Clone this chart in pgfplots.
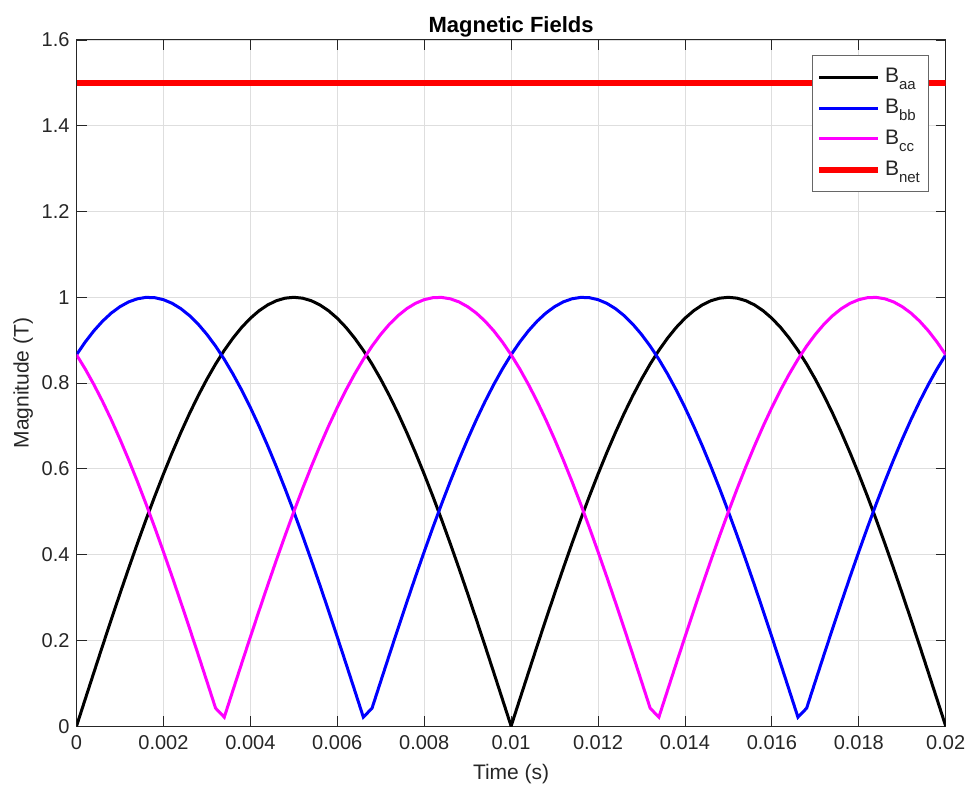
\documentclass[border=0pt]{standalone}
\usepackage{fontspec}
\setmainfont{Liberation Sans}
\usepackage{pgfplots}
\usepackage{pgfplotstable}
\pgfplotsset{compat=1.18}
\pgfplotstableread{
t a b c
0.0000 0.0000 0.8660 0.8660
0.0002 0.0628 0.8957 0.8329
0.0004 0.1253 0.9219 0.7965
0.0006 0.1874 0.9444 0.7570
0.0008 0.2487 0.9632 0.7145
0.0010 0.3090 0.9781 0.6691
0.0012 0.3681 0.9893 0.6211
0.0014 0.4258 0.9965 0.5707
0.0016 0.4818 0.9998 0.5180
0.0018 0.5358 0.9991 0.4633
0.0020 0.5878 0.9945 0.4067
0.0022 0.6374 0.9860 0.3486
0.0024 0.6845 0.9736 0.2890
0.0026 0.7290 0.9573 0.2284
0.0028 0.7705 0.9373 0.1668
0.0030 0.8090 0.9135 0.1045
0.0032 0.8443 0.8862 0.0419
0.0034 0.8763 0.8554 0.0209
0.0036 0.9048 0.8211 0.0837
0.0038 0.9298 0.7837 0.1461
0.0040 0.9511 0.7431 0.2079
0.0042 0.9686 0.6997 0.2689
0.0044 0.9823 0.6534 0.3289
0.0046 0.9921 0.6046 0.3875
0.0048 0.9980 0.5534 0.4446
0.0050 1.0000 0.5000 0.5000
0.0052 0.9980 0.4446 0.5534
0.0054 0.9921 0.3875 0.6046
0.0056 0.9823 0.3289 0.6534
0.0058 0.9686 0.2689 0.6997
0.0060 0.9511 0.2079 0.7431
0.0062 0.9298 0.1461 0.7837
0.0064 0.9048 0.0837 0.8211
0.0066 0.8763 0.0209 0.8554
0.0068 0.8443 0.0419 0.8862
0.0070 0.8090 0.1045 0.9135
0.0072 0.7705 0.1668 0.9373
0.0074 0.7290 0.2284 0.9573
0.0076 0.6845 0.2890 0.9736
0.0078 0.6374 0.3486 0.9860
0.0080 0.5878 0.4067 0.9945
0.0082 0.5358 0.4633 0.9991
0.0084 0.4818 0.5180 0.9998
0.0086 0.4258 0.5707 0.9965
0.0088 0.3681 0.6211 0.9893
0.0090 0.3090 0.6691 0.9781
0.0092 0.2487 0.7145 0.9632
0.0094 0.1874 0.7570 0.9444
0.0096 0.1253 0.7965 0.9219
0.0098 0.0628 0.8329 0.8957
0.0100 0.0000 0.8660 0.8660
0.0102 0.0628 0.8957 0.8329
0.0104 0.1253 0.9219 0.7965
0.0106 0.1874 0.9444 0.7570
0.0108 0.2487 0.9632 0.7145
0.0110 0.3090 0.9781 0.6691
0.0112 0.3681 0.9893 0.6211
0.0114 0.4258 0.9965 0.5707
0.0116 0.4818 0.9998 0.5180
0.0118 0.5358 0.9991 0.4633
0.0120 0.5878 0.9945 0.4067
0.0122 0.6374 0.9860 0.3486
0.0124 0.6845 0.9736 0.2890
0.0126 0.7290 0.9573 0.2284
0.0128 0.7705 0.9373 0.1668
0.0130 0.8090 0.9135 0.1045
0.0132 0.8443 0.8862 0.0419
0.0134 0.8763 0.8554 0.0209
0.0136 0.9048 0.8211 0.0837
0.0138 0.9298 0.7837 0.1461
0.0140 0.9511 0.7431 0.2079
0.0142 0.9686 0.6997 0.2689
0.0144 0.9823 0.6534 0.3289
0.0146 0.9921 0.6046 0.3875
0.0148 0.9980 0.5534 0.4446
0.0150 1.0000 0.5000 0.5000
0.0152 0.9980 0.4446 0.5534
0.0154 0.9921 0.3875 0.6046
0.0156 0.9823 0.3289 0.6534
0.0158 0.9686 0.2689 0.6997
0.0160 0.9511 0.2079 0.7431
0.0162 0.9298 0.1461 0.7837
0.0164 0.9048 0.0837 0.8211
0.0166 0.8763 0.0209 0.8554
0.0168 0.8443 0.0419 0.8862
0.0170 0.8090 0.1045 0.9135
0.0172 0.7705 0.1668 0.9373
0.0174 0.7290 0.2284 0.9573
0.0176 0.6845 0.2890 0.9736
0.0178 0.6374 0.3486 0.9860
0.0180 0.5878 0.4067 0.9945
0.0182 0.5358 0.4633 0.9991
0.0184 0.4818 0.5180 0.9998
0.0186 0.4258 0.5707 0.9965
0.0188 0.3681 0.6211 0.9893
0.0190 0.3090 0.6691 0.9781
0.0192 0.2487 0.7145 0.9632
0.0194 0.1874 0.7570 0.9444
0.0196 0.1253 0.7965 0.9219
0.0198 0.0628 0.8329 0.8957
0.0200 0.0000 0.8660 0.8660
}\fields
\definecolor{axgray}{rgb}{0.15,0.15,0.15}
\definecolor{gridgray}{rgb}{0.87,0.87,0.87}
\definecolor{mag}{rgb}{1,0,1}
\definecolor{blu}{rgb}{0,0,1}
\definecolor{rd}{rgb}{1,0,0}
\newcommand{\sub}[1]{\raisebox{-3.5pt}{\fontsize{7.5}{8}\selectfont #1}}
\begin{document}
\begin{tikzpicture}
\begin{axis}[
  name=ax,
  scale only axis,
  width=434.5pt, height=343pt,
  xmin=0, xmax=0.02, ymin=0, ymax=1.6,
  scaled x ticks=false, scaled y ticks=false,
  xtick={0,0.002,0.004,0.006,0.008,0.01,0.012,0.014,0.016,0.018,0.02},
  xticklabels={0,0.002,0.004,0.006,0.008,0.01,0.012,0.014,0.016,0.018,0.02},
  ytick={0,0.2,0.4,0.6,0.8,1,1.2,1.4,1.6},
  yticklabels={0,0.2,0.4,0.6,0.8,1,1.2,1.4,1.6},
  grid=major,
  major grid style={gridgray, line width=0.4pt},
  tick align=inside,
  major tick length=5pt,
  tick style={axgray, line width=0.4pt},
  axis line style={axgray, line width=0.5pt},
  tick label style={font=\fontsize{10}{12}\selectfont, text=axgray},
  xticklabel style={yshift=-1pt},
  label style={font=\fontsize{10.5}{12}\selectfont, text=axgray},
  xlabel={Time (s)},
  xlabel style={yshift=-0.5pt},
  ylabel={Magnitude (T)},
  ylabel style={yshift=-2.5pt},
  title={\textbf{Magnetic Fields}},
  title style={font=\fontsize{11}{13}\selectfont, yshift=-8pt},
  legend style={at={(0.98,0.978)}, anchor=north east, draw=axgray!70, line width=0.4pt,
    font=\fontsize{10.5}{12}\selectfont, text=axgray, row sep=2.7pt, inner xsep=2pt, inner ysep=4.5pt},
  legend cell align=left,
  legend image code/.code={\draw[#1] (0pt,0pt) -- (29.5pt,0pt);},
]
\addplot[black, line width=1.5pt] table[x=t, y=a] {\fields};
\addlegendentry{B\sub{aa}}
\addplot[blu, line width=1.5pt] table[x=t, y=b] {\fields};
\addlegendentry{B\sub{bb}}
\addplot[mag, line width=1.5pt] table[x=t, y=c] {\fields};
\addlegendentry{B\sub{cc}}
\addplot[rd, line width=3pt] coordinates {(0,1.5) (0.02,1.5)};
\addlegendentry{B\sub{net}}
\end{axis}
\pgfresetboundingbox
\path ([shift={(-38.25pt,-31.5pt)}]ax.south west) rectangle ([shift={(12.65pt,20pt)}]ax.north east);
\end{tikzpicture}
\end{document}
